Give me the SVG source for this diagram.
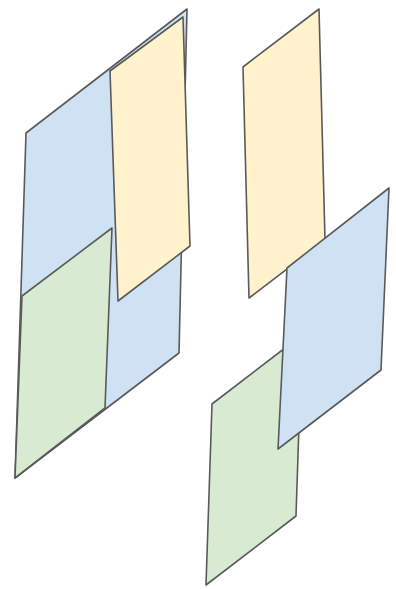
<svg xmlns="http://www.w3.org/2000/svg" width="396" height="589" viewBox="0 0 396 589">
<style>
.s{stroke:#5a5a5a;stroke-width:1.6;stroke-linejoin:round}
.b{fill:#cfe2f3}
.y{fill:#fff2cc}
.g{fill:#d9ead3}
</style>
<rect width="396" height="589" fill="#ffffff"/>
<g id="left-blue"><polygon class="s b" points="26,133 187,9 179,353 15,478"/></g>
<g id="left-yellow"><polygon class="s y" points="110,71 183,17 190,246 118,301"/></g>
<g id="left-green"><polygon class="s g" points="22,296 112,228 105,408 15,478"/></g>
<g id="right-yellow"><polygon class="s y" points="243,67 319,9 325,240 249,298"/></g>
<g id="right-green"><polygon class="s g" points="212,404 302,335 296,516 206,585"/></g>
<g id="right-blue"><polygon class="s b" points="287,268 389,188 381,370 278,449"/></g>
<g id="connectors"></g>
</svg>
